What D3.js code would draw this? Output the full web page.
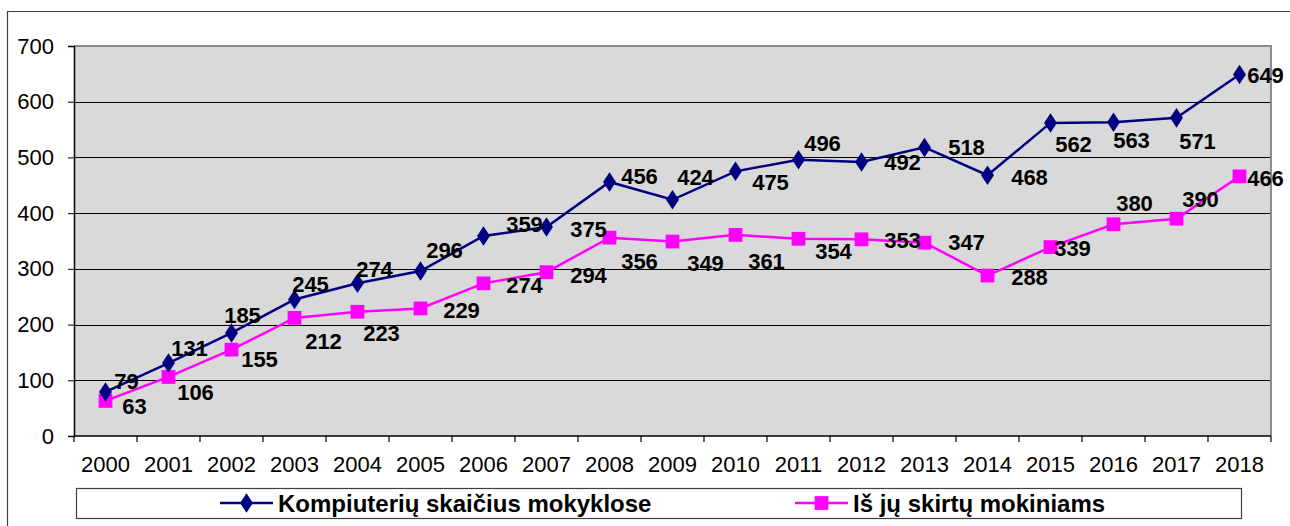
<!DOCTYPE html>
<html>
<head>
<meta charset="utf-8">
<script src="https://cdn.jsdelivr.net/npm/d3@7"></script>
<style>
  body { margin: 0; background: #fff; }
  svg { display: block; font-family: "Liberation Sans", Arial, sans-serif; }
</style>
</head>
<body>
<svg id="chart" width="1290" height="526"></svg>
<script>
// data
const years = ["2000","2001","2002","2003","2004","2005","2006","2007","2008","2009",
  "2010","2011","2012","2013","2014","2015","2016","2017","2018"];
const computers = [79,131,185,245,274,296,359,375,456,424,475,496,492,518,468,562,563,571,649];
const forPupils = [63,106,155,212,223,229,274,294,356,349,361,354,353,347,288,339,380,390,466];
const yTicks = [0,100,200,300,400,500,600,700];
const seriesNames = ["Kompiuterių skaičius mokyklose", "Iš jų skirtų mokiniams"];

// label offsets (px) from each point, as placed in the original
const labelDx1 = [21,21,11,16,17,24,41,42,30,23,35,24,41,42,42,23,18,21,26];
const labelDy1 = [-10,-15,-17,-15,-14,-21,-11,2,-5,-22,11,-16,1,0,2,22,18,24,1];
const labelDx2 = [29,27,28,29,24,41,41,42,30,33,31,35,41,42,42,22,21,24,26];
const labelDy2 = [6,16,10,24,22,2,2,3,24,22,27,13,1,0,2,1,-21,-19,2];

const svg = d3.select("#chart");
const margin = { left: 74, top: 46, right: 1271, bottom: 436 };

const x = d3.scaleBand().domain(years).range([margin.left, margin.right]);
const y = d3.scaleLinear().domain([0, 700]).range([margin.bottom, margin.top]);

// outer frame
svg.append("path")
    .attr("d", `M7.5,526 V11.5 H1290`)
    .attr("fill", "none")
    .attr("stroke", "#404040")
    .attr("stroke-width", 1.2);

// plot area
svg.append("rect")
    .attr("x", margin.left).attr("y", margin.top)
    .attr("width", margin.right - margin.left)
    .attr("height", margin.bottom - margin.top)
    .attr("fill", "#d9d9d9");

// gridlines
svg.append("g")
    .selectAll("line")
    .data(yTicks.filter(d => d > 0 && d < 700))
    .enter()
    .append("line")
    .attr("x1", margin.left).attr("x2", margin.right)
    .attr("y1", d => Math.round(y(d)) + 0.5).attr("y2", d => Math.round(y(d)) + 0.5)
    .attr("stroke", "#000")
    .attr("stroke-width", 1);

// plot border (top/right)
svg.append("path")
    .attr("d", `M${margin.left},${margin.top} H${margin.right} V${margin.bottom}`)
    .attr("fill", "none")
    .attr("stroke", "#8c8c8c")
    .attr("stroke-width", 2);

// y axis
const yAxis = svg.append("g")
    .attr("transform", `translate(${margin.left},0)`)
    .call(d3.axisLeft(y).tickValues(yTicks).tickSize(6).tickPadding(14));
yAxis.select(".domain").attr("stroke", "#000").attr("stroke-width", 1.5);
yAxis.selectAll(".tick line").attr("stroke", "#000");
yAxis.selectAll("text")
    .attr("font-size", 22)
    .attr("font-family", "Liberation Sans, Arial, sans-serif")
    .attr("fill", "#000");

// x axis: ticks at category boundaries
const xAxis = svg.append("g")
    .attr("transform", `translate(0,${margin.bottom})`)
    .call(d3.axisBottom(x).tickSize(0).tickPadding(20));
xAxis.select(".domain").remove();
xAxis.selectAll("text")
    .attr("font-size", 22)
    .attr("font-family", "Liberation Sans, Arial, sans-serif")
    .attr("fill", "#000");
svg.append("line")
    .attr("x1", margin.left).attr("x2", margin.right)
    .attr("y1", margin.bottom).attr("y2", margin.bottom)
    .attr("stroke", "#000").attr("stroke-width", 1.5);
const bounds = years.map(d => x(d)).concat([x(years[years.length - 1]) + x.bandwidth()]);
svg.append("g")
    .selectAll("line")
    .data(bounds)
    .enter()
    .append("line")
    .attr("x1", d => d).attr("x2", d => d)
    .attr("y1", margin.bottom).attr("y2", margin.bottom + 6)
    .attr("stroke", "#000").attr("stroke-width", 1.2);

const cx = d => x(d) + x.bandwidth() / 2;
const line = d3.line().x(d => cx(d.year)).y(d => y(d.value));

const series = [
  { values: computers, color: "#000080", shape: d3.symbolDiamond, dx: labelDx1, dy: labelDy1 },
  { values: forPupils, color: "#ff00ff", shape: d3.symbolSquare, dx: labelDx2, dy: labelDy2 }
];

// draw pupils first so navy sits on top
series.slice().reverse().forEach(s => {
    const pts = years.map((yr, i) => ({ year: yr, value: s.values[i], i: i }));
    svg.append("path")
        .datum(pts)
        .attr("d", line)
        .attr("fill", "none")
        .attr("stroke", s.color)
        .attr("stroke-width", 2.5);
    svg.append("g")
        .selectAll("path")
        .data(pts)
        .enter()
        .append("path")
        .attr("d", d3.symbol().type(s.shape).size(s.shape === d3.symbolSquare ? 190 : 110))
        .attr("transform", d => `translate(${cx(d.year)},${y(d.value)})` +
            (s.shape === d3.symbolDiamond ? " scale(1.15,1)" : ""))
        .attr("fill", s.color);
});

series.forEach(s => {
    svg.append("g")
        .selectAll("text")
        .data(s.values)
        .enter()
        .append("text")
        .attr("x", (d, i) => cx(years[i]) + s.dx[i])
        .attr("y", (d, i) => y(d) + s.dy[i])
        .attr("text-anchor", "middle")
        .attr("dominant-baseline", "central")
        .attr("font-size", 22)
        .attr("font-weight", "bold")
        .attr("fill", "#000")
        .text(d => d);
});

// legend
svg.append("rect")
    .attr("x", 76.5).attr("y", 488.5)
    .attr("width", 1165).attr("height", 30)
    .attr("fill", "#fff")
    .attr("stroke", "#404040")
    .attr("stroke-width", 1.2);

const legendItems = [
  { name: seriesNames[0], color: "#000080", shape: d3.symbolDiamond, x0: 220 },
  { name: seriesNames[1], color: "#ff00ff", shape: d3.symbolSquare, x0: 795 }
];
const ly = 503;
legendItems.forEach(it => {
    svg.append("line")
        .attr("x1", it.x0).attr("x2", it.x0 + 53)
        .attr("y1", ly).attr("y2", ly)
        .attr("stroke", it.color).attr("stroke-width", 2.5);
    svg.append("path")
        .attr("d", d3.symbol().type(it.shape).size(it.shape === d3.symbolSquare ? 190 : 110))
        .attr("transform", `translate(${it.x0 + 26.5},${ly})` +
            (it.shape === d3.symbolDiamond ? " scale(1.15,1)" : ""))
        .attr("fill", it.color);
    svg.append("text")
        .attr("x", it.x0 + 58)
        .attr("y", ly)
        .attr("dominant-baseline", "central")
        .attr("font-size", 24)
        .attr("font-weight", "bold")
        .attr("fill", "#000")
        .text(it.name);
});
</script>
</body>
</html>
